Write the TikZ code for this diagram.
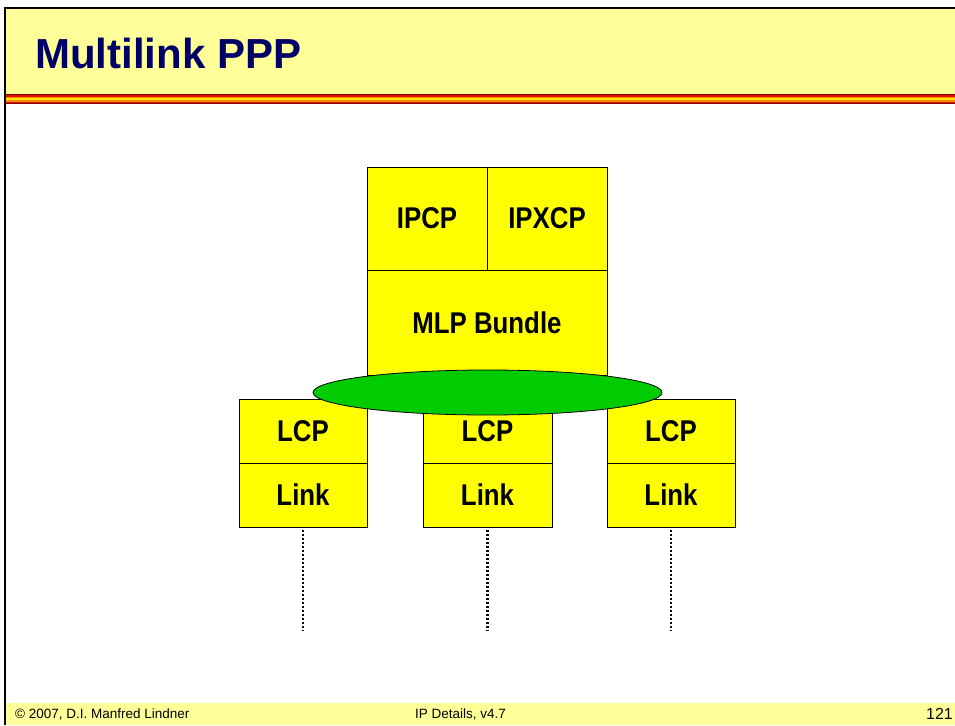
\documentclass[tikz,border=0pt]{standalone}
\usepackage{fontspec}
\setmainfont{Liberation Sans}
\newfontfamily\narrowfont[FakeStretch=0.86]{Liberation Sans}
\usetikzlibrary{shapes.geometric}
\definecolor{titlebg}{HTML}{FFFF99}
\definecolor{titleblue}{HTML}{000066}
\definecolor{boxyellow}{HTML}{FFFF00}
\definecolor{ellgreen}{HTML}{00CC00}
\definecolor{darkred}{HTML}{800000}
\definecolor{stripered}{HTML}{E01000}
\definecolor{stripeorange}{HTML}{FF8C00}
\definecolor{stripeyellow}{HTML}{FFE000}
\tikzset{
  layerfont/.style={font=\narrowfont\bfseries\fontsize{30}{32}\selectfont},
  layerbox/.style={draw=black, line width=0.8pt, fill=boxyellow, rectangle, inner sep=0pt, layerfont},
  bundle/.style={draw=black, line width=0.8pt, fill=ellgreen, ellipse, inner sep=0pt},
  dotline/.style={line width=2.2pt, dash pattern=on 2pt off 2pt},
  foottext/.style={inner sep=0pt, font=\fontsize{13.5}{15}\selectfont},
}
\begin{document}
\begin{tikzpicture}[x=1pt, y=-1pt]
\useasboundingbox (0,0) rectangle (955,725);
% title bar
\fill[titlebg] (4,8) rectangle (955,94);
\fill[darkred] (4,94) rectangle (955,104);
\fill[stripered] (4,95) rectangle (955,103);
\fill[stripeorange] (4,96.5) rectangle (955,101.5);
\fill[stripeyellow] (4,98) rectangle (955,100);
\fill[darkred] (4,102.5) rectangle (955,104);
% footer
\fill[titlebg] (4,703) rectangle (955,725);
% frame
\draw[line width=2.5pt] (5,725) -- (5,8) -- (955,8);
% title
\node[anchor=base west, inner sep=0pt, text=titleblue, font=\bfseries\fontsize{42}{46}\selectfont] (title) at (35,68) {Multilink PPP};
% footer texts
\node[foottext, anchor=base west] (copy) at (15,718) {\textcopyright{} 2007, D.I. Manfred Lindner};
\node[foottext, anchor=base west] (ver) at (415,718) {IP Details, v4.7};
\node[foottext, anchor=base east, font=\fontsize{16}{18}\selectfont] (page) at (953,719) {121};
% upper stack
\node[layerbox, minimum width=120pt, minimum height=103pt] (ipcp) at (427,218.5) {IPCP};
\node[layerbox, minimum width=120pt, minimum height=103pt] (ipxcp) at (547,218.5) {IPXCP};
\node[layerbox, minimum width=240pt, minimum height=105pt] (mlp) at (487,322.5) {MLP Bundle};
% lower stacks
\node[layerbox, minimum width=128pt, minimum height=64pt] (lcp1) at (303,431) {};
\node[layerbox, minimum width=128pt, minimum height=64pt] (link1) at (303,495) {Link};
\node[layerbox, minimum width=129pt, minimum height=64pt] (lcp2) at (487.5,431) {};
\node[layerbox, minimum width=129pt, minimum height=64pt] (link2) at (487.5,495) {Link};
\node[layerbox, minimum width=128pt, minimum height=64pt] (lcp3) at (671,431) {};
\node[layerbox, minimum width=128pt, minimum height=64pt] (link3) at (671,495) {Link};
% ellipse
\node[bundle, minimum width=349pt, minimum height=45pt] (ell) at (487.5,392.5) {};
% LCP labels above the ellipse layer
\node[inner sep=0pt, layerfont] (lcp1t) at (lcp1.center) {LCP};
\node[inner sep=0pt, layerfont] (lcp2t) at (lcp2.center) {LCP};
\node[inner sep=0pt, layerfont] (lcp3t) at (lcp3.center) {LCP};
% dotted lines
\coordinate (e1) at (303,631);
\coordinate (e2) at (487.5,631);
\coordinate (e3) at (671,631);
\draw[dotline] ([yshift=-3pt]link1.south) -- (e1);
\draw[dotline] ([yshift=-3pt]link2.south) -- (e2);
\draw[dotline] ([yshift=-3pt]link3.south) -- (e3);
\end{tikzpicture}
\end{document}
